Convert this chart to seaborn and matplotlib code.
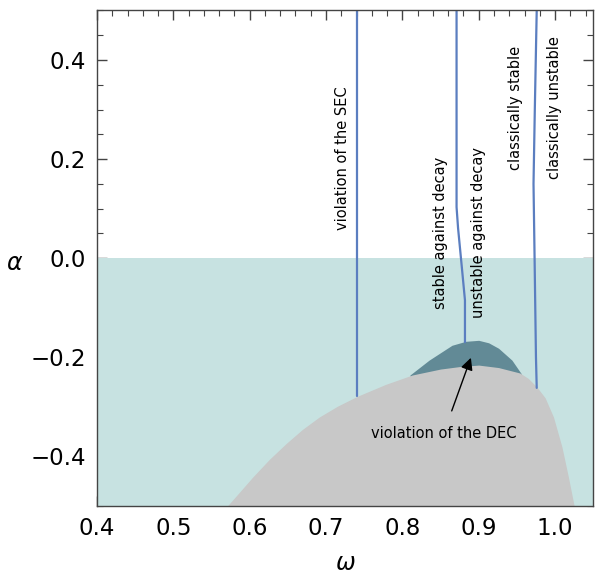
"""
Stability regions in the (omega, alpha) plane.
"""

import pandas as pd
import matplotlib
matplotlib.use("Agg")
import matplotlib.pyplot as plt
from matplotlib.ticker import MultipleLocator, FuncFormatter
import seaborn as sns

# boundary of the grey region (upper edge)
omega_bound = [0.571, 0.587, 0.604, 0.626, 0.648, 0.669, 0.691, 0.715, 0.741, 0.778,
               0.813, 0.850, 0.875, 0.900, 0.926, 0.954, 0.965, 0.976, 0.987, 0.998,
               1.009, 1.0175, 1.025]
alpha_bound = [-0.500, -0.472, -0.442, -0.406, -0.374, -0.346, -0.321, -0.299, -0.279, -0.255,
               -0.236, -0.224, -0.219, -0.216, -0.221, -0.232, -0.243, -0.260, -0.282, -0.321,
               -0.381, -0.442, -0.500]

# upper edge of the DEC violation region
omega_dec = [0.810, 0.835, 0.865, 0.883, 0.900, 0.913, 0.926, 0.9435, 0.956]
alpha_dec = [-0.236, -0.206, -0.176, -0.168, -0.166, -0.171, -0.182, -0.206, -0.234]

# boundary curves
sec_omega = [0.7407, 0.7407]
sec_alpha = [-0.279, 0.5]
decay_omega = [0.882, 0.882, 0.878, 0.873, 0.871, 0.871]
decay_alpha = [-0.170, -0.085, -0.020, 0.060, 0.103, 0.5]
class_omega = [0.976, 0.975, 0.9732, 0.9718, 0.9735, 0.976]
class_alpha = [-0.262, -0.200, 0.000, 0.150, 0.300, 0.500]

labels = ["violation of the SEC", "stable against decay", "unstable against decay",
          "classically stable", "classically unstable"]
label_omega = [0.721, 0.850, 0.900, 0.948, 0.999]
label_alpha = [0.202, 0.050, 0.052, 0.303, 0.303]

sns.set_style("ticks")
plt.rcParams["font.family"] = ["DejaVu Sans"]
plt.rcParams["text.color"] = "black"

fig = plt.figure(figsize=(5.95, 5.8), dpi=100)
ax = fig.add_axes([0.163, 0.128, 0.834, 0.854])

teal = "#C7E2E1"
grey = "#C8C8C8"
dark = "#628A96"
blue = "#5B7EC0"

ax.fill_between([0.4, 1.05], [0, 0], [-0.5, -0.5], color=teal, lw=0, zorder=1)
ax.fill_between(omega_dec, alpha_dec, -0.5, color=dark, lw=0, zorder=2)
ax.fill_between(omega_bound, alpha_bound, -0.5, color=grey, lw=0, zorder=3)

curves = pd.concat([
    pd.DataFrame({"omega": sec_omega, "alpha": sec_alpha, "curve": "sec"}),
    pd.DataFrame({"omega": decay_omega, "alpha": decay_alpha, "curve": "decay"}),
    pd.DataFrame({"omega": class_omega, "alpha": class_alpha, "curve": "class"}),
])
sns.lineplot(data=curves, x="omega", y="alpha", units="curve", estimator=None,
             sort=False, orient="y", color=blue, lw=1.6, ax=ax, zorder=4)

for txt, x, y in zip(labels, label_omega, label_alpha):
    ax.text(x, y, txt, rotation=90, ha="center", va="center", fontsize=10.5,
            color="black", zorder=5)

ax.annotate("violation of the DEC", xy=(0.891, -0.196), xytext=(0.854, -0.354),
            ha="center", va="center", fontsize=10.5, color="black", zorder=5,
            arrowprops=dict(arrowstyle="-|>", color="black", lw=1, shrinkA=9,
                            mutation_scale=18))

ax.set_xlim(0.4, 1.05)
ax.set_ylim(-0.5, 0.5)
ax.xaxis.set_major_locator(MultipleLocator(0.1))
ax.xaxis.set_minor_locator(MultipleLocator(0.02))
ax.yaxis.set_major_locator(MultipleLocator(0.2))
ax.yaxis.set_minor_locator(MultipleLocator(0.05))
fmt = FuncFormatter(lambda v, p: f"{v:.1f}".replace("-", "\u2212"))
ax.xaxis.set_major_formatter(fmt)
ax.yaxis.set_major_formatter(fmt)
ax.tick_params(which="both", direction="in", top=True, right=True, color="#444444",
               labelcolor="black")
ax.tick_params(which="major", length=7, width=1, labelsize=16.5, pad=8)
ax.tick_params(which="minor", length=4, width=0.8)
for sp in ax.spines.values():
    sp.set_color("#444444")
    sp.set_linewidth(1)
    sp.set_zorder(6)

ax.set_xlabel(r"$\omega$", fontsize=17, labelpad=8, color="black")
ax.set_ylabel(r"$\alpha$", fontsize=17, rotation=0, ha="center", va="center", color="black")
ax.yaxis.set_label_coords(-0.165, 0.49)

fig.savefig("out.png", dpi=100)
